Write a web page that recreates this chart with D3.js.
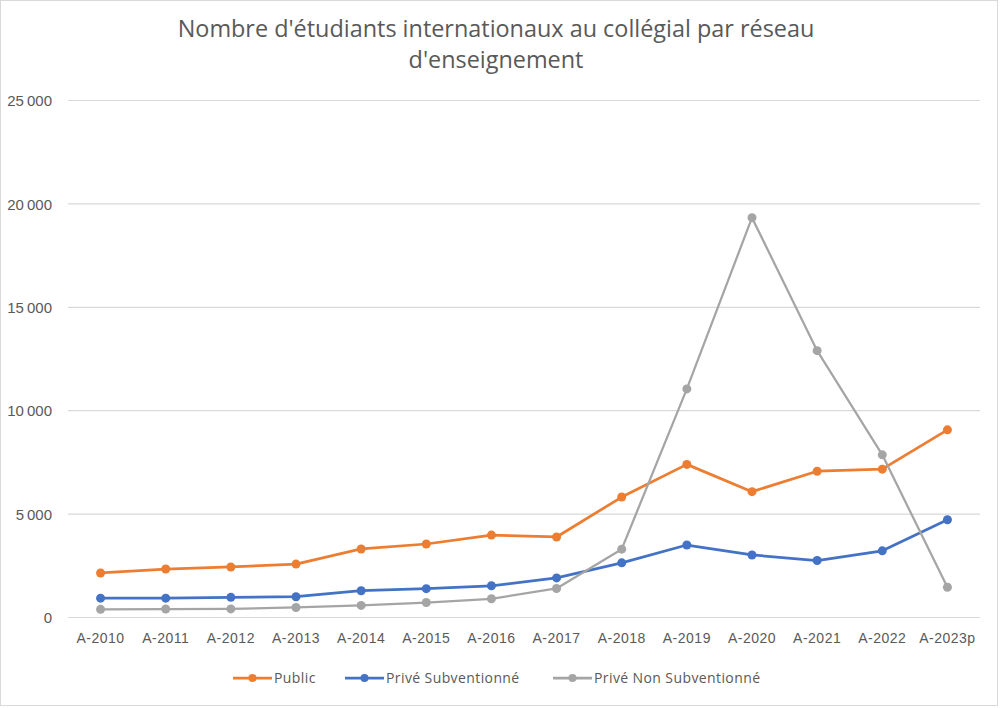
<!DOCTYPE html>
<html>
<head>
<meta charset="utf-8">
<script src="https://cdn.jsdelivr.net/npm/d3@7"></script>
<style>
  body { margin: 0; background: #fff; }
  svg { display: block; font-family: "Open Sans", "Noto Sans", sans-serif; }
</style>
</head>
<body>
<div id="chart"></div>
<script>
const categories = ["A-2010", "A-2011", "A-2012", "A-2013", "A-2014", "A-2015", "A-2016",
  "A-2017", "A-2018", "A-2019", "A-2020", "A-2021", "A-2022", "A-2023p"];

const publicValues = [2130, 2320, 2420, 2560, 3290, 3530, 3960, 3870, 5800, 7380, 6060, 7050, 7150, 9050];
const priveSubValues = [910, 910, 950, 980, 1270, 1370, 1510, 1890, 2620, 3480, 3000, 2730, 3200, 4700];
const priveNonSubValues = [370, 385, 390, 460, 560, 700, 880, 1380, 3280, 11030, 19310, 12880, 7840, 1440];

const yTicks = [0, 5000, 10000, 15000, 20000, 25000];

const seriesNames = ["Public", "Privé Subventionné", "Privé Non Subventionné"];
const seriesColors = ["#ED7D31", "#4472C4", "#A5A5A5"];

const titleLines = ["Nombre d'étudiants internationaux au collégial par réseau", "d'enseignement"];

const width = 1000, height = 708;
const margin = { top: 100, right: 20, bottom: 91, left: 68 };

const series = [publicValues, priveSubValues, priveNonSubValues].map((values, i) => ({
  name: seriesNames[i],
  color: seriesColors[i],
  values: values.map((v, j) => ({ cat: categories[j], value: v }))
}));

const svg = d3.select("#chart")
  .append("svg")
  .attr("width", width)
  .attr("height", height);

// frame
svg.append("rect")
  .attr("x", 0.5).attr("y", 0.5)
  .attr("width", 997).attr("height", 705)
  .attr("fill", "#fff")
  .attr("stroke", "#d9d9d9");

const x = d3.scaleBand()
  .domain(categories)
  .range([margin.left, width - margin.right]);

const y = d3.scaleLinear()
  .domain([0, 25000])
  .range([height - margin.bottom, margin.top]);

const fmt = (v) => d3.format(",")(v).replace(/,/g, "\u2009");

// grid + y labels
const yAxis = d3.axisLeft(y)
  .tickValues(yTicks)
  .tickSize(-(width - margin.right - margin.left))
  .tickPadding(16)
  .tickFormat(fmt);

const gy = svg.append("g")
  .attr("transform", `translate(${margin.left},0)`)
  .call(yAxis);
gy.select(".domain").remove();
gy.selectAll(".tick line").attr("stroke", "#d9d9d9").attr("stroke-width", 1.2);
gy.selectAll(".tick text")
  .attr("fill", "#595959")
  .attr("font-size", 15)
  .attr("dy", "0.38em");

// x labels
const xAxis = d3.axisBottom(x).tickSize(0).tickPadding(16);
const gx = svg.append("g")
  .attr("transform", `translate(0,${height - margin.bottom})`)
  .call(xAxis);
gx.select(".domain").remove();
gx.selectAll(".tick text")
  .attr("fill", "#595959")
  .attr("font-size", 14)
  .attr("letter-spacing", 0.5);

// lines
const line = d3.line()
  .x((d) => x(d.cat) + x.bandwidth() / 2)
  .y((d) => y(d.value));

const seriesGroup = svg.selectAll("g.series")
  .data(series)
  .enter()
  .append("g")
  .attr("class", "series");

seriesGroup.append("path")
  .attr("d", (d) => line(d.values))
  .attr("fill", "none")
  .attr("stroke", (d) => d.color)
  .attr("stroke-width", (d, i) => (i === 2 ? 2.25 : 2.75))
  .attr("stroke-linejoin", "round");

seriesGroup.selectAll("circle")
  .data((d) => d.values.map((v) => ({ ...v, color: d.color })))
  .enter()
  .append("circle")
  .attr("cx", (d) => x(d.cat) + x.bandwidth() / 2)
  .attr("cy", (d) => y(d.value))
  .attr("r", 4.5)
  .attr("fill", (d) => d.color);

// title
const title = svg.append("text")
  .attr("text-anchor", "middle")
  .attr("fill", "#595959")
  .attr("font-size", 21);
titleLines.forEach((t, i) => {
  title.append("tspan")
    .attr("x", 496)
    .attr("y", 37 + i * 30.5)
    .text(t);
});
// fit first line to reference width
const w0 = title.select("tspan").node().getComputedTextLength();
title.attr("font-size", 21 * 637 / w0);

// legend
const legendX = [233, 345, 553];
const legend = svg.selectAll("g.legend")
  .data(series)
  .enter()
  .append("g")
  .attr("class", "legend")
  .attr("transform", (d, i) => `translate(${legendX[i]},678)`);

legend.append("line")
  .attr("x1", 0).attr("x2", 39)
  .attr("stroke", (d) => d.color)
  .attr("stroke-width", 2.75);
legend.append("circle")
  .attr("cx", 19.5).attr("r", 4)
  .attr("fill", (d) => d.color);
legend.append("text")
  .attr("x", 41)
  .attr("dy", "0.35em")
  .attr("fill", "#595959")
  .attr("font-size", 14)
  .attr("letter-spacing", 0.4)
  .text((d) => d.name);
</script>
</body>
</html>
